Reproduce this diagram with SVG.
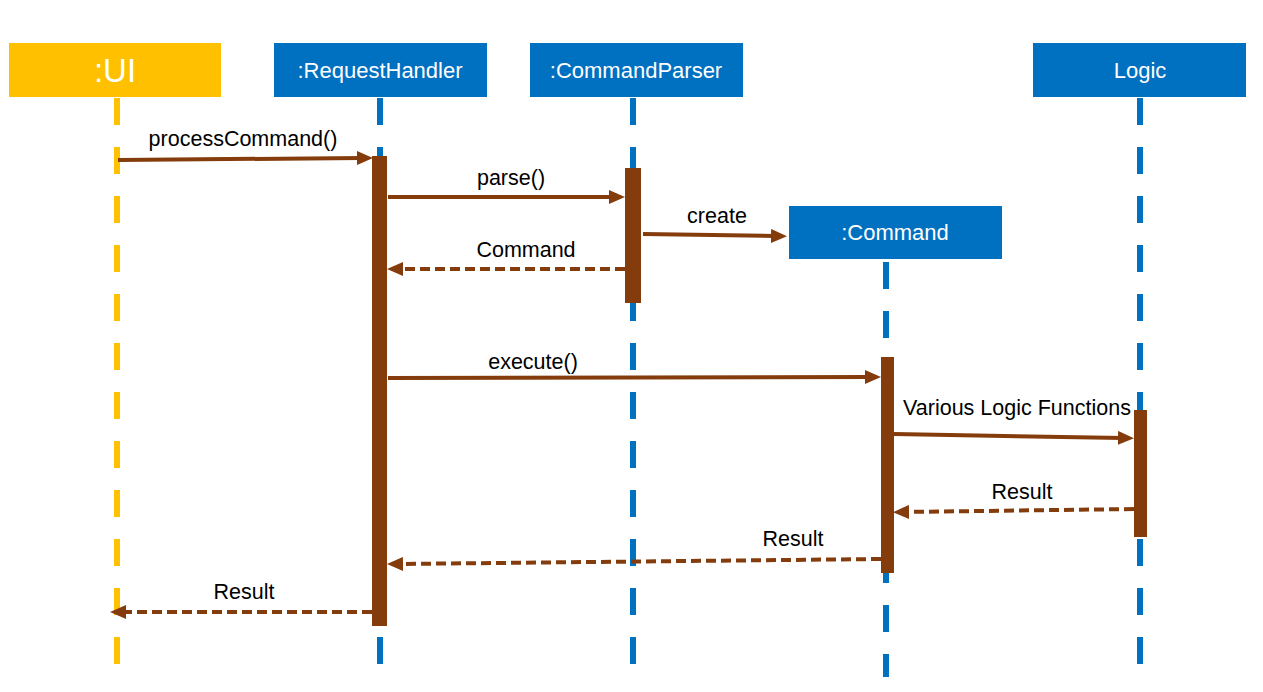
<svg xmlns="http://www.w3.org/2000/svg" width="1263" height="692" viewBox="0 0 1263 692">
<style>
.box{fill:#0070C0}
.ui{fill:#FFC000}
.lbl{font-family:"Liberation Sans",Arial,sans-serif;font-size:22px;fill:#ffffff;text-anchor:middle}
.msg{font-family:"Liberation Sans",Arial,sans-serif;font-size:21.5px;fill:#000000;text-anchor:middle}
.life{stroke:#0070C0;stroke-width:6;stroke-dasharray:27 22;fill:none}
.lifeu{stroke:#FFC000;stroke-width:6;stroke-dasharray:27 22;fill:none}
.act{fill:#843C0C}
.call{stroke:#843C0C;stroke-width:4;fill:none;marker-end:url(#ah)}
.ret{stroke:#843C0C;stroke-width:4;fill:none;stroke-dasharray:10 5;marker-end:url(#ah)}
</style>
<defs>
<marker id="ah" markerUnits="userSpaceOnUse" markerWidth="16" markerHeight="14" refX="5" refY="7" orient="auto">
<path d="M0,0 L16,7 L0,14 z" fill="#843C0C"/>
</marker>
</defs>
<rect width="1263" height="692" fill="#ffffff"/>
<g id="lifelines">
<line class="lifeu" x1="117" y1="98" x2="117" y2="665"/>
<line class="life" x1="380" y1="98" x2="380" y2="665"/>
<line class="life" x1="633" y1="98" x2="633" y2="665"/>
<line class="life" x1="886" y1="262" x2="886" y2="677"/>
<line class="life" x1="1140" y1="98" x2="1140" y2="665"/>
</g>
<g id="ui"><rect class="ui" x="9" y="43" width="212" height="54"/><text class="lbl" x="115" y="82" style="font-size:33px">:UI</text></g>
<g id="requesthandler"><rect class="box" x="274" y="43" width="213" height="54"/><text class="lbl" x="380" y="78">:RequestHandler</text></g>
<g id="commandparser"><rect class="box" x="530" y="43" width="213" height="54"/><text class="lbl" x="636" y="78">:CommandParser</text></g>
<g id="logic"><rect class="box" x="1033" y="43" width="213" height="54"/><text class="lbl" x="1140" y="78">Logic</text></g>
<g id="command"><rect class="box" x="789" y="206" width="213" height="53"/><text class="lbl" x="895" y="240">:Command</text></g>
<g id="activations">
<rect class="act" x="372" y="156" width="15" height="470"/>
<rect class="act" x="625" y="168" width="16" height="135"/>
<rect class="act" x="881" y="357" width="13" height="216"/>
<rect class="act" x="1134" y="410" width="13" height="127"/>
</g>
<g id="connectors">
<line class="call" x1="118" y1="160" x2="362" y2="158"/>
<text class="msg" x="243" y="146">processCommand()</text>
<line class="call" x1="388" y1="197" x2="614" y2="197"/>
<text class="msg" x="511" y="185">parse()</text>
<line class="call" x1="643" y1="234" x2="776" y2="236"/>
<text class="msg" x="717" y="223">create</text>
<line class="ret" x1="625" y1="269" x2="398" y2="269"/>
<text class="msg" x="526" y="257">Command</text>
<line class="call" x1="388" y1="378" x2="870" y2="377"/>
<text class="msg" x="533" y="369">execute()</text>
<line class="call" x1="894" y1="434" x2="1123" y2="438"/>
<text class="msg" x="1017" y="415">Various Logic Functions</text>
<line class="ret" x1="1134" y1="509" x2="904" y2="512"/>
<text class="msg" x="1022" y="499">Result</text>
<line class="ret" x1="881" y1="559" x2="398" y2="564"/>
<text class="msg" x="793" y="546">Result</text>
<line class="ret" x1="372" y1="612" x2="121" y2="612"/>
<text class="msg" x="244" y="599">Result</text>
</g>
</svg>
